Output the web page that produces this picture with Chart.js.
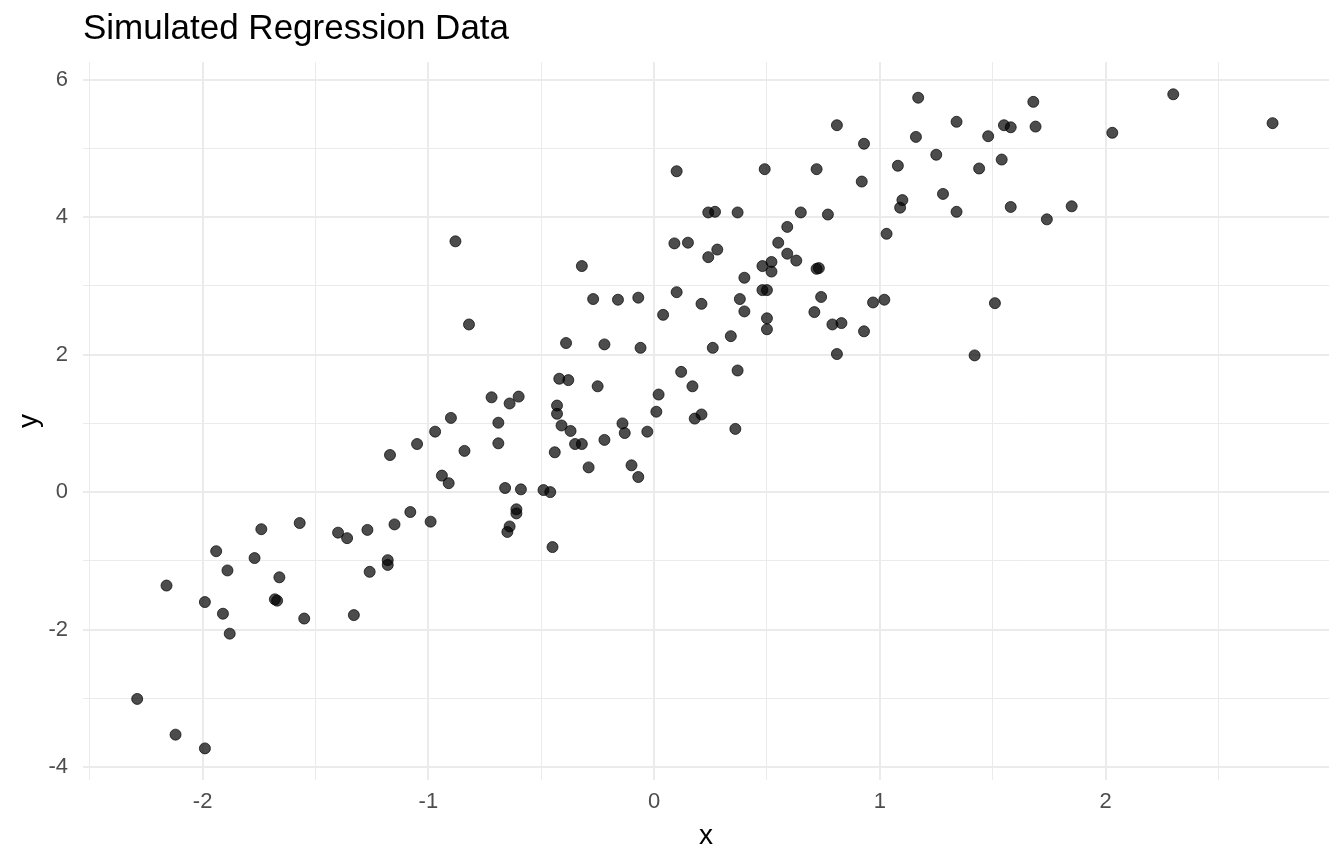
<!DOCTYPE html>
<html lang="en">
<head>
    <meta charset="UTF-8">
    <title>Simulated Regression Data</title>
    <style>
        html, body{
            margin: 0;
            padding: 0;
            background: #ffffff;
        }
    </style>
</head>
<body>
    <canvas id="chart" width="1344" height="864"></canvas>

    <script src="https://cdn.jsdelivr.net/npm/chart.js"></script>

    <script>
        // values
        const xVals = [
            -2.29, -2.12, -1.99, -2.16, -1.99, -1.94, -1.89, -1.91, -1.88, -1.77,
            -1.74, -1.68, -1.67, -1.66, -1.57, -1.55, -1.40, -1.36, -1.27, -1.26,
            -1.18, -1.18, -1.33, -1.15, -1.08, -0.99, -1.17, -1.05, -0.97, -0.90,
            -0.84, -0.94, -0.91, -0.72, -0.69, -0.69, -0.88, -0.82, -0.32, -0.27,
            -0.16, -0.07, -0.39, -0.22, -0.06, 0.09, 0.15, 0.24, 0.28, 0.59,
            0.55, 0.59, 0.63, 0.48, 0.52, 0.52, 0.40, 0.48, 0.50, 0.10,
            0.21, 0.38, 0.40, 0.04, 0.50, 0.50, 0.34, 0.26, 0.12, 0.37,
            0.17, -0.25, -0.42, -0.38, 0.02, 0.01, 0.21, 0.18, 0.36, -0.14,
            -0.13, -0.03, -0.22, -0.43, -0.43, -0.41, -0.37, -0.35, -0.32, -0.44,
            -0.29, -0.10, -0.07, -0.60, -0.64, -0.66, -0.59, -0.49, -0.46, -0.61,
            -0.61, -0.64, -0.65, -0.45, 1.17, 0.81, 1.34, 1.16, 0.93, 1.25,
            0.10, 0.49, 0.72, 1.08, 1.44, 0.92, 1.28, 1.10, 1.09, 1.34,
            0.24, 0.27, 0.37, 0.65, 0.77, 1.03, 0.72, 0.73, 0.74, 0.71,
            0.79, 0.83, 0.93, 0.97, 1.02, 0.81, 1.42, 2.30, 2.74, 2.03,
            1.68, 1.55, 1.58, 1.69, 1.48, 1.54, 1.58, 1.74, 1.85, 1.51
        ]
        const yVals = [
            -3.01, -3.53, -3.73, -1.36, -1.60, -0.86, -1.14, -1.77, -2.06, -0.96,
            -0.54, -1.56, -1.58, -1.24, -0.45, -1.84, -0.59, -0.67, -0.55, -1.16,
            -0.99, -1.06, -1.79, -0.47, -0.29, -0.43, 0.54, 0.70, 0.88, 1.08,
            0.60, 0.24, 0.13, 1.38, 1.01, 0.71, 3.65, 2.44, 3.29, 2.81,
            2.80, 2.83, 2.17, 2.15, 2.10, 3.62, 3.63, 3.42, 3.53, 3.86,
            3.63, 3.47, 3.37, 3.29, 3.35, 3.21, 3.12, 2.94, 2.94, 2.91,
            2.74, 2.81, 2.63, 2.58, 2.53, 2.37, 2.27, 2.10, 1.75, 1.77,
            1.54, 1.54, 1.65, 1.63, 1.42, 1.17, 1.13, 1.07, 0.92, 1.00,
            0.86, 0.88, 0.76, 1.26, 1.14, 0.97, 0.89, 0.70, 0.70, 0.58,
            0.36, 0.39, 0.22, 1.39, 1.29, 0.06, 0.04, 0.03, 0.00, -0.25,
            -0.31, -0.50, -0.58, -0.80, 5.74, 5.34, 5.39, 5.17, 5.07, 4.91,
            4.67, 4.70, 4.70, 4.75, 4.71, 4.52, 4.34, 4.25, 4.14, 4.08,
            4.07, 4.08, 4.07, 4.07, 4.04, 3.76, 3.25, 3.26, 2.84, 2.62,
            2.44, 2.46, 2.34, 2.76, 2.80, 2.01, 1.99, 5.79, 5.37, 5.23,
            5.68, 5.34, 5.31, 5.32, 5.18, 4.84, 4.15, 3.97, 4.16, 2.75
        ]

        const xMajor = [-2, -1, 0, 1, 2]
        const xMinor = [-2.5, -1.5, -0.5, 0.5, 1.5, 2.5]
        const yMajor = [-4, -2, 0, 2, 4, 6]
        const yMinor = [-3, -1, 1, 3, 5]
        const xLimits = [-2.53, 2.99]
        const yLimits = [-4.19, 6.26]

        Chart.defaults.font.family = "'Liberation Sans', Arial, sans-serif"

        var points = []
        xVals.forEach((x, i) => {
            points.push({x: x, y: yVals[i]})
        })

        function gridWidth(major){
            return function(c){
                if (!c.tick) return 1
                return major.includes(c.tick.value) ? 2 : 1
            }
        }

        function tickSet(major, minor){
            return function(scale){
                scale.ticks = major.concat(minor)
                    .sort((a, b) => a - b)
                    .map(v => ({value: v}))
            }
        }

        const ctx = document.getElementById('chart')

        new Chart(ctx, {
            type: 'scatter',
            data: {
                datasets: [{
                    data: points,
                    backgroundColor: 'rgba(0,0,0,0.7)',
                    borderColor: 'rgba(0,0,0,0.7)',
                    borderWidth: 1,
                    pointRadius: 5.5,
                    pointHoverRadius: 5.5
                }]
            },
            options: {
                responsive: false,
                animation: false,
                layout: {
                    padding: {top: 8, right: 15, bottom: 0, left: 0}
                },
                plugins: {
                    legend: {display: false},
                    tooltip: {enabled: false},
                    title: {
                        display: true,
                        text: 'Simulated Regression Data',
                        align: 'start',
                        fullSize: false,
                        color: '#000000',
                        font: {size: 35, weight: 'normal'},
                        padding: {top: 0, bottom: 12}
                    }
                },
                scales: {
                    x: {
                        type: 'linear',
                        position: 'bottom',
                        min: xLimits[0],
                        max: xLimits[1],
                        afterBuildTicks: tickSet(xMajor, xMinor),
                        afterFit: function(scale){ scale.height = 84 },
                        border: {display: false},
                        grid: {
                            color: '#EBEBEB',
                            lineWidth: gridWidth(xMajor),
                            drawTicks: false
                        },
                        ticks: {
                            autoSkip: false,
                            maxRotation: 0,
                            padding: 9,
                            color: '#4D4D4D',
                            font: {size: 22},
                            callback: v => xMajor.includes(v) ? String(v) : ''
                        },
                        title: {
                            display: true,
                            text: 'x',
                            color: '#000000',
                            font: {size: 28},
                            padding: {top: 4, bottom: 11}
                        }
                    },
                    y: {
                        type: 'linear',
                        position: 'left',
                        min: yLimits[0],
                        max: yLimits[1],
                        afterBuildTicks: tickSet(yMajor, yMinor),
                        afterFit: function(scale){ scale.width = 83 },
                        border: {display: false},
                        grid: {
                            color: '#EBEBEB',
                            lineWidth: gridWidth(yMajor),
                            drawTicks: false
                        },
                        ticks: {
                            autoSkip: false,
                            padding: 15,
                            color: '#4D4D4D',
                            font: {size: 22},
                            callback: v => yMajor.includes(v) ? String(v) : ''
                        },
                        title: {
                            display: true,
                            text: 'y',
                            color: '#000000',
                            font: {size: 28},
                            padding: {top: 12, bottom: 0}
                        }
                    }
                }
            }
        })
    </script>
</body>
</html>
